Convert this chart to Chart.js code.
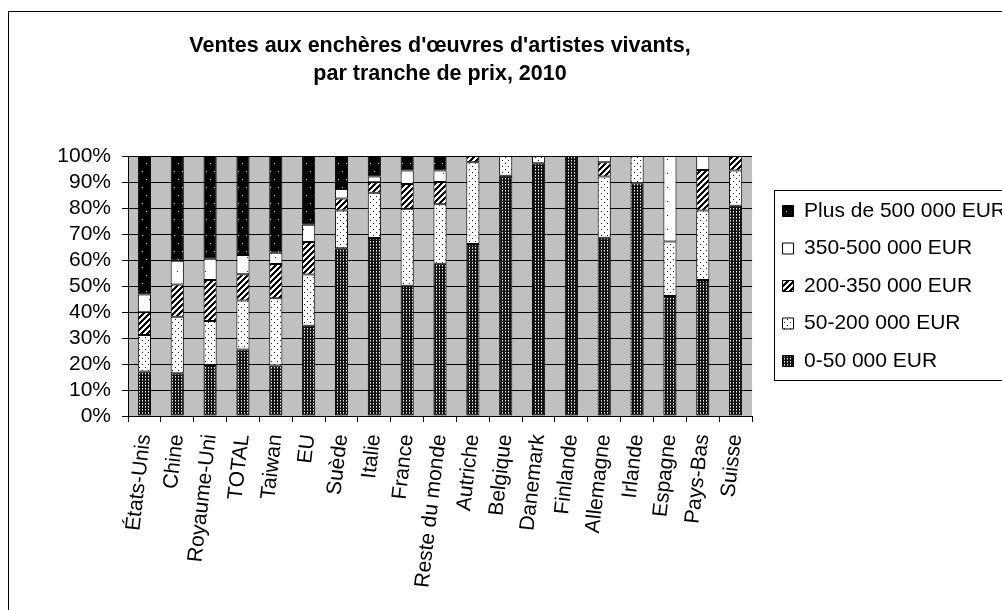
<!DOCTYPE html>
<html><head><meta charset="utf-8">
<script src="https://cdn.jsdelivr.net/npm/chart.js@4.4.1/dist/chart.umd.min.js"></script>
<style>html,body{margin:0;padding:0;background:#fff;}canvas{display:block;}</style>
</head><body>
<canvas id="c" width="1002" height="610"></canvas>
<script>
const categories = ['États-Unis','Chine','Royaume-Uni','TOTAL','Taiwan','EU','Suède','Italie','France','Reste du monde','Autriche','Belgique','Danemark','Finlande','Allemagne','Irlande','Espagne','Pays-Bas','Suisse'];
const seriesNames = ['0-50 000 EUR','50-200 000 EUR','200-350 000 EUR','350-500 000 EUR','Plus de 500 000 EUR'];
const v0_50    = [17.1,16.4,19.6,25.6,19.4,34.7,64.5,68.5,50.1,58.6,66.2,92.4,97.2,100,68.6,89.5,46.2,52.3,80.9];
const v50_200  = [14.1,21.8,16.9,18.8,25.9,19.7,14.5,17.4,29.6,22.8,31.4,7.6,2.8,0,23.5,10.5,20.9,26.7,13.5];
const v200_350 = [8.7,12.4,15.8,10.1,13.2,12.5,4.7,4.0,9.5,8.6,2.4,0,0,0,5.5,0,0,15.6,5.6];
const v350_500 = [6.8,9.1,8.2,7.4,4.3,6.7,3.6,2.2,5.2,4.4,0,0,0,0,2.4,0,32.9,5.4,0];
const v500plus = [53.3,40.3,39.5,38.1,37.2,26.4,12.7,7.9,5.6,5.6,0,0,0,0,0,0,0,0,0];
const titleLines = ["Ventes aux enchères d'œuvres d'artistes vivants,", "par tranche de prix, 2010"];
const yMin = 0, yMax = 100, yStep = 10;

const FONT = "'Liberation Sans', Arial, sans-serif";
Chart.defaults.font.family = FONT;
Chart.defaults.color = '#000';

const mainCtx = document.getElementById('c').getContext('2d');
function makePattern(w, h, bg, pixels) {
  const c = document.createElement('canvas');
  c.width = w; c.height = h;
  const x = c.getContext('2d');
  x.fillStyle = bg; x.fillRect(0, 0, w, h);
  pixels.forEach(p => { x.fillStyle = p[2]; x.fillRect(p[0], p[1], 1, 1); });
  return mainCtx.createPattern(c, 'repeat');
}
function hatchPattern() {
  const n = 6, px = [];
  for (let x = 0; x < n; x++) {
    const y = (n - 1 - x + n) % n;
    px.push([x, y, '#000'], [x, (y + 1) % n, '#000'], [x, (y + 2) % n, '#000']);
  }
  return makePattern(n, n, '#fff', px);
}
const patterns = [
  makePattern(3, 3, '#111', [[1,1,'#f0f0f0'],[1,2,'#888']]),
  makePattern(6, 6, '#fff', [[1,1,'#222'],[4,4,'#222']]),
  hatchPattern(),
  makePattern(14, 14, '#fff', [[9,5,'#333']]),
  makePattern(8, 16, '#000', [[2,3,'#fff'],[6,11,'#fff']])
];
const seriesValues = [v0_50, v50_200, v200_350, v350_500, v500plus];

const datasets = seriesValues.map((vals, i) => ({
  label: seriesNames[i],
  data: vals,
  backgroundColor: patterns[i],
  borderColor: '#000',
  borderWidth: 1,
  borderSkipped: false,
  categoryPercentage: 1,
  barPercentage: 0.4
}));

const decor = {
  id: 'decor',
  beforeDraw(chart) {
    const {ctx, chartArea: a} = chart;
    ctx.save();
    ctx.fillStyle = '#fff';
    ctx.fillRect(0, 0, chart.width, chart.height);
    ctx.fillStyle = '#C0C0C0';
    ctx.fillRect(a.left, a.top, a.right - a.left, a.bottom - a.top);
    ctx.restore();
  },
  afterLayout(chart) {
    const lg = chart.legend;
    lg.left += 14; lg.right += 14;
  },
  afterDraw(chart) {
    const {ctx, chartArea: a} = chart;
    ctx.save();
    ctx.strokeStyle = '#000';
    ctx.lineWidth = 1;
    ctx.strokeRect(8.5, 11.5, 1200, 800);
    const cy = (a.top + a.bottom) / 2;
    ctx.strokeRect(Math.round(chart.legend.left + 8) + 0.5, Math.round(cy - 96) + 0.5, 400, 190);
    ctx.restore();
  }
};

new Chart(mainCtx, {
  type: 'bar',
  data: { labels: categories, datasets },
  options: {
    responsive: false,
    animation: false,
    layout: { padding: 0 },
    plugins: {
      title: {
        display: true,
        text: titleLines,
        fullSize: false,
        color: '#000',
        font: { size: 21.5, weight: 'bold', lineHeight: 28 / 21.5 },
        padding: { top: 32, bottom: 68 }
      },
      legend: {
        position: 'right',
        fullSize: false,
        reverse: true,
        labels: {
          boxWidth: 11, boxHeight: 11, padding: 16.5,
          font: { size: 21 }, color: '#000'
        }
      },
      tooltip: { enabled: false }
    },
    scales: {
      x: {
        stacked: true,
        afterFit(s) { s.height = 194; },
        grid: { display: true, drawOnChartArea: false, drawTicks: true, tickLength: 6, color: '#000', offset: true },
        border: { display: true, color: '#000', width: 1 },
        ticks: { autoSkip: false, minRotation: 83.5, maxRotation: 83.5, padding: 11, font: { size: 21 }, color: '#000' }
      },
      y: {
        stacked: true,
        min: yMin, max: yMax,
        afterFit(s) { s.width = 128; },
        grid: { color: '#000', tickLength: 6, drawTicks: true },
        border: { display: true, color: '#000', width: 1 },
        ticks: { stepSize: yStep, autoSkip: false, padding: 11, font: { size: 21 }, color: '#000', callback: v => v + '%' }
      }
    }
  },
  plugins: [decor]
});
</script>
</body></html>
